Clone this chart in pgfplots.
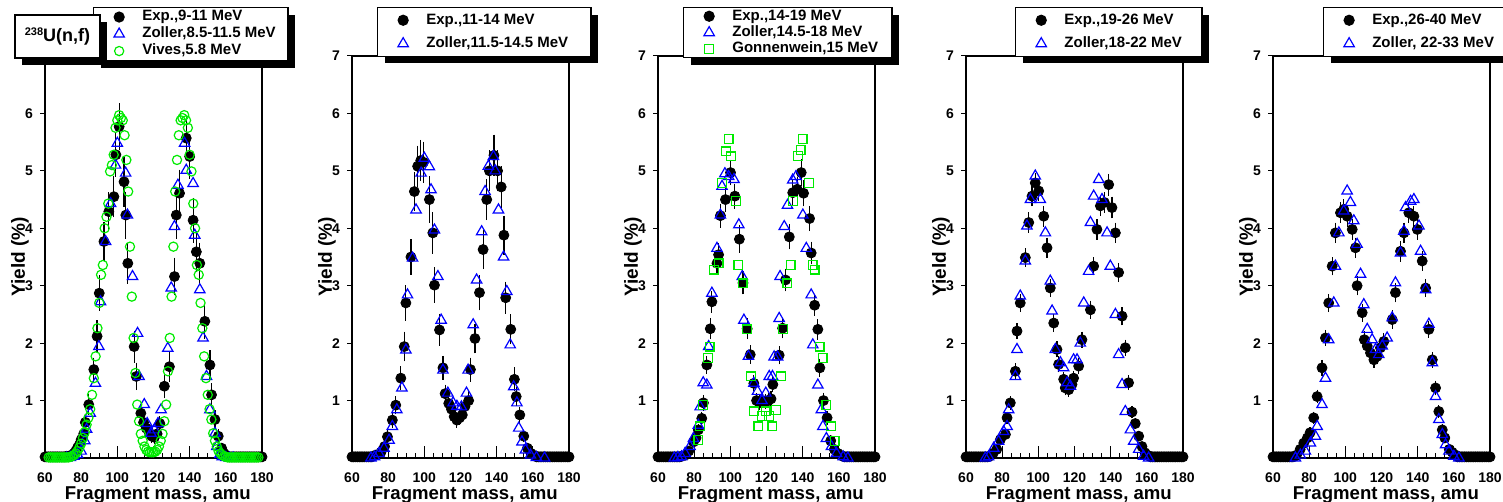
\documentclass[border=0pt]{standalone}
\usepackage{fontspec}
\setmainfont{Liberation Sans}
\usepackage{pgfplots}
\pgfplotsset{compat=1.18}
\usetikzlibrary{shadows}
\definecolor{rblue}{RGB}{0,0,255}
\definecolor{rgreen}{RGB}{0,235,0}
\pgfplotsset{
  panel/.style={
    scale only axis, width=108.5pt, height=201pt,
    xmin=60, xmax=180, ymin=0, ymax=7,
    xtick={60,80,...,180}, minor x tick num=3,
    ytick={1,...,7},
    xtick align=inside, ytick align=outside, tick pos=left,
    major tick length=2.5pt, minor tick length=2.5pt,
    xtick style={/pgfplots/major tick length=6pt, black, line width=0.5pt},
    ytick style={black, line width=0.5pt},
    axis line style={line width=0.8pt},
    tick label style={font=\fontsize{7}{8}\selectfont\bfseries},
    xticklabel style={yshift=-3.8pt},
    /pgf/number format/assume math mode=true,
    xlabel={Fragment mass, amu}, ylabel={Yield (\%)},
    every axis x label/.style={at={(axis description cs:0.52,-0.092)},anchor=center,font=\fontsize{9.3}{10}\selectfont\bfseries},
    every axis y label/.style={at={(axis description cs:-0.115,0.5)},rotate=90,anchor=center,font=\fontsize{9.5}{10}\selectfont\bfseries},
    clip=false,
    legend cell align=left,
  },
  leg/.style n args={4}{legend style={at={(axis description cs:#1,1.122)}, anchor=north west,
    draw=black, line width=0.6pt, fill=white,
    drop shadow={shadow xshift=3.5pt, shadow yshift=-3.5pt, fill=black, opacity=1},
    font=\fontsize{7.5}{8}\selectfont\bfseries,
    inner xsep=4.5pt, inner ysep=#2, row sep=#3, column sep=#4,
    nodes={inner sep=0.3pt, text height=5.2pt, text depth=1.3pt}}},
  mk/.style={only marks, legend image code/.code={\path (-8pt,0pt) (8pt,0pt); \draw[##1] plot coordinates {(0pt,0pt)};}},
  exp/.style={mk, mark=*, mark size=2.5pt, black, mark options={fill=black, draw=black},
    error bars/.cd, y dir=both, y explicit, error mark=-,
    error bar style={black, line width=0.6pt},
    error mark options={black, mark size=1.7pt, line width=0.6pt}},
  zol/.style={mk, mark=triangle, mark size=3pt, rblue, mark options={line width=0.6pt, draw=rblue}},
  viv/.style={mk, mark=o, mark size=2.3pt, rgreen, mark options={line width=0.6pt, draw=rgreen}},
  gon/.style={mk, mark=square, mark size=2.2pt, rgreen, mark options={line width=0.6pt, draw=rgreen}},
}
\begin{document}
\begin{tikzpicture}[x=1pt,y=1pt]
\useasboundingbox (0,0) rectangle (751.5,251);
% ---------------- Panel 1
\begin{axis}[panel, at={(22.5pt,22pt)}, anchor=south west, leg={0.221}{1.2pt}{1.4pt}{3pt}]
\addplot[exp] table[x=x,y=y,y error=e] {
x y e
60 0.02 0
61 0.02 0
62 0.02 0
63 0.02 0
64 0.02 0
65 0.02 0
66 0.02 0
67 0.02 0
68 0.02 0
69 0.02 0
70 0.02 0
71 0.02 0
72 0.03 0
73 0.03 0
74 0.04 0
75 0.05 0.01
76 0.08 0.02
77 0.12 0.02
78 0.18 0.03
79 0.23 0.04
80 0.32 0.05
81.4 0.42 0.05
82.3 0.62 0.07
84.2 0.93 0.12
87 1.54 0.15
88.8 2.12 0.22
90 2.87 0.25
92.6 3.77 0.28
95.3 4.29 0.28
98.1 4.55 0.3
99.2 5.28 0.32
101 5.77 0.35
103.7 4.81 0.38
104.7 4.23 0.35
105.8 3.39 0.3
109.3 1.94 0.22
110.5 1.42 0.18
113 0.78 0.1
114.5 0.62 0.08
116 0.52 0.07
117.5 0.45 0.06
119 0.38 0.06
120.5 0.36 0.06
122 0.42 0.06
123.5 0.6 0.07
126 1.25 0.15
128.8 1.59 0.2
131.6 3.16 0.27
132.6 4.23 0.35
134.4 4.61 0.35
138.1 5.57 0.32
140 5.25 0.33
141.9 4.14 0.33
143.7 3.59 0.3
145.6 3.39 0.3
148.4 2.38 0.25
151.2 1.62 0.2
152.1 1.1 0.14
154 0.67 0.1
155.8 0.38 0.06
157.7 0.17 0.04
159 0.08 0.02
160 0.05 0.01
161 0.03 0
162 0.02 0
163 0.02 0
164 0.02 0
165 0.02 0
166 0.02 0
167 0.02 0
168 0.02 0
169 0.02 0
170 0.02 0
171 0.02 0
172 0.02 0
173 0.02 0
174 0.02 0
175 0.02 0
176 0.02 0
177 0.02 0
178 0.02 0
179 0.02 0
180 0.02 0
};
\addlegendentry{\makebox[68pt][l]{Exp.,9-11 MeV}}
\addplot[zol] coordinates {
(72,0.0) (74,0.01) (76,0.03) (78,0.06) (80,0.12) (82,0.3) (83,0.5) (85,0.78) (87.9,1.3)
(89.8,1.94) (90.7,2.72) (93.5,3.77) (96.3,4.43) (99,5.1) (100,5.48) (104.6,4.96) (105.6,4.23)
(108.4,3.16) (111.2,2.17) (112,1.42) (114.9,0.93) (116.5,0.6) (118.6,0.43) (120.5,0.49)
(122.5,0.6) (124.2,0.84) (127.9,1.91) (129.8,2.96) (131.6,4.03) (133.5,4.75) (137.2,5.48)
(138.1,5.01) (141.9,4.78) (142.8,3.88) (145.6,2.93) (147.4,2.09) (149.3,1.42) (151.2,0.84)
(154,0.43) (155,0.2) (156.7,0.06) (158,0.02) (160,0.01) (162,0) (164,0)
};
\addlegendentry{\makebox[68pt][l]{Zoller,8.5-11.5 MeV}}
\addplot[viv] coordinates {
(62,0.01) (63,0.01) (64,0.01) (65,0.01) (66,0.01) (67,0.01) (68,0.01) (69,0.01) (70,0.01)
(71,0.01) (72,0.01) (73,0.01) (74,0.02) (75,0.03) (76,0.05) (77,0.08) (78,0.12) (79,0.18)
(80,0.25) (81,0.35) (82,0.45) (83,0.58) (84,0.7) (85,0.85) (86,1.1) (87,1.39) (88,1.77)
(89,2.26) (90,2.7) (91,3.19) (92,3.36) (93,4.0) (94,4.2) (95,4.43) (96,4.99) (97,5.1)
(98,5.28) (99,5.75) (100,5.88) (101,5.97) (102,5.92) (103,5.88) (104,5.62) (105,5.19)
(106,4.64) (107,3.68) (108,2.81) (109,2.09) (110,1.48) (111,0.93) (112,0.64) (113,0.42)
(114,0.3) (115,0.2) (116,0.14) (117,0.11) (118,0.1) (119,0.1) (120,0.1) (121,0.11)
(122,0.14) (123,0.2) (124,0.3) (125,0.42) (126,0.64) (127,0.93) (128,1.51) (129,2.09)
(130,2.81) (131,3.68) (132,4.64) (133,5.19) (134,5.62) (135,5.88) (136,5.92) (137,5.97)
(138,5.88) (139,5.75) (140,5.28) (141,4.99) (142,4.43) (143,4.0) (144,3.36) (145,3.19)
(146,2.7) (147,2.26) (148,1.77) (149,1.39) (150,1.1) (151,0.85) (152,0.67) (153,0.43)
(154,0.3) (155,0.2) (156,0.12) (157,0.08) (158,0.05) (159,0.03) (160,0.02) (161,0.01)
(162,0.01) (163,0.01) (164,0.01) (165,0.01) (166,0.01) (167,0.01) (168,0.01) (169,0.01)
(170,0.01) (171,0.01) (172,0.01) (173,0.01) (174,0.01) (175,0.01) (176,0.01) (177,0.01) (178,0.01)
};
\addlegendentry{\makebox[68pt][l]{Vives,5.8 MeV}}
\end{axis}
% ---------------- Panel 2
\begin{axis}[panel, at={(176pt,22pt)}, anchor=south west, leg={0.115}{2.8pt}{4.6pt}{3pt}]
\addplot[exp] table[x=x,y=y,y error=e] {
x y e
60 0.02 0
61 0.02 0
62 0.02 0
63 0.02 0
64 0.02 0
65 0.02 0
66 0.02 0
67 0.02 0
68 0.02 0
69 0.02 0
70 0.02 0
71 0.02 0
73 0.05 0.01
76 0.1 0.02
78 0.2 0.03
79.6 0.37 0.05
82.3 0.66 0.07
84.2 0.92 0.1
87 1.39 0.15
88.9 1.94 0.2
89.8 2.7 0.25
92.6 3.5 0.25
94.5 4.64 0.28
96.3 5.08 0.3
98 5.18 0.3
99.5 5.15 0.3
102.8 4.5 0.35
104.7 3.92 0.3
105.6 3.01 0.25
108.4 2.23 0.22
110.3 1.57 0.15
111.5 1.12 0.1
113.5 0.95 0.08
115 0.85 0.08
116.5 0.72 0.07
118 0.66 0.07
119.5 0.7 0.07
121 0.75 0.07
122.5 0.9 0.08
124.5 1.0 0.1
125.5 1.54 0.15
128 2.08 0.2
130.5 2.88 0.25
132.5 3.63 0.28
134.5 4.5 0.3
136 5.0 0.3
138.5 5.27 0.3
140.5 5.0 0.3
142.5 4.72 0.3
144 3.88 0.28
145 2.79 0.22
147.8 2.24 0.2
149.8 1.37 0.15
150.8 1.07 0.1
152.8 0.75 0.08
155 0.38 0.05
157 0.17 0.03
159 0.08 0.02
161 0.04 0.01
162 0.02 0
163 0.02 0
164 0.02 0
165 0.02 0
166 0.02 0
167 0.02 0
168 0.02 0
169 0.02 0
170 0.02 0
171 0.02 0
172 0.02 0
173 0.02 0
174 0.02 0
175 0.02 0
176 0.02 0
177 0.02 0
178 0.02 0
179 0.02 0
180 0.02 0
};
\addlegendentry{\makebox[77.5pt][l]{Exp.,11-14 MeV}}
\addplot[zol] coordinates {
(70.5,0) (72.5,0.02) (74.9,0.08) (77.7,0.17) (80.5,0.31) (82.3,0.55) (84.8,0.84) (87.6,1.22)
(89.8,1.88) (90.7,2.84) (93.5,3.48) (95.4,4.32) (98.2,4.96) (100,5.22) (102.8,5.07)
(103.7,4.67) (105.6,3.97) (107.5,3.16) (109.3,2.4) (110.3,1.53) (113,1.13) (115.9,0.96)
(118,0.9) (120.5,0.89) (123.3,1.13) (124.2,1.53) (127,2.32) (128.9,3.1) (131.7,3.94)
(133.6,4.64) (135.4,5.08) (138.2,5.25) (139.2,5.0) (141,4.32) (143.8,3.5) (145.6,2.9)
(147.5,1.97) (149.4,1.24) (151.2,0.96) (152.2,0.52) (154,0.28) (155.9,0.14) (158.7,0.05)
(162,0.01) (166.5,0)
};
\addlegendentry{\makebox[77.5pt][l]{Zoller,11.5-14.5 MeV}}
\end{axis}
% ---------------- Panel 3
\begin{axis}[panel, at={(329pt,22pt)}, anchor=south west, leg={0.115}{0.8pt}{1.1pt}{3pt}]
\addplot[exp] table[x=x,y=y,y error=e] {
x y e
60 0.02 0
61 0.02 0
62 0.02 0
63 0.02 0
64 0.02 0
65 0.02 0
66 0.02 0
67 0.02 0
68 0.02 0
69 0.02 0
70 0.02 0
71 0.02 0
72 0.02 0
73 0.03 0
75 0.05 0.01
77 0.12 0.02
79.6 0.28 0.03
81 0.35 0.04
82.3 0.49 0.05
84.2 0.69 0.06
85.1 0.96 0.08
87 1.62 0.1
88.9 2.25 0.12
89.8 2.72 0.13
92.6 3.39 0.14
93.5 3.54 0.14
94.5 4.22 0.15
97.3 4.5 0.16
100.1 4.97 0.16
102.5 4.56 0.16
105 3.81 0.18
107 3.05 0.14
109.3 2.25 0.12
111 1.8 0.1
113 1.3 0.08
114.5 1.0 0.07
116 0.96 0.07
117.7 1.0 0.07
119.5 0.98 0.07
121 1.0 0.07
122.5 1.03 0.07
123.5 1.28 0.08
127 1.79 0.1
128.9 2.26 0.12
130.5 3.1 0.14
132.6 3.85 0.16
134.5 4.62 0.16
137 4.68 0.16
139.2 4.97 0.17
140.5 4.61 0.17
143.8 4.17 0.16
144.7 3.57 0.14
146.6 2.66 0.12
148.4 2.24 0.12
149.5 1.57 0.1
151.5 1.0 0.08
153.5 0.7 0.06
155.5 0.3 0.04
157.5 0.15 0.03
159.5 0.08 0.02
161.5 0.04 0.01
163 0.02 0
164 0.02 0
165 0.02 0
166 0.02 0
167 0.02 0
168 0.02 0
169 0.02 0
170 0.02 0
171 0.02 0
172 0.02 0
173 0.02 0
174 0.02 0
175 0.02 0
176 0.02 0
177 0.02 0
178 0.02 0
179 0.02 0
180 0.02 0
};
\addlegendentry{\makebox[75pt][l]{Exp.,14-19 MeV}}
\addplot[zol] coordinates {
(69,0) (71,0.01) (73,0.02) (75,0.08) (77.7,0.2) (79.6,0.34) (82.3,0.57) (83.3,0.89) (85,1.31)
(87,1.27) (88,1.94) (89.8,2.87) (92.6,3.65) (94.5,4.23) (95.4,4.73) (97,4.95) (99.1,4.9)
(102,4.85) (104.7,4.06) (106.6,3.16) (107.5,2.4) (110,1.77) (113,1.3) (115,1.16) (117.5,1.0)
(119.6,1.13) (121.5,1.42) (123.3,1.42) (124.2,1.76) (126.1,1.76) (127,2.43) (127.5,3.16)
(129.8,4.03) (131.6,4.4) (134.5,4.84) (136.3,4.9) (140.1,4.23) (142,3.65) (144.7,2.84)
(145.6,1.97) (148.4,1.27) (150.3,0.84) (151.2,0.55) (153.1,0.34) (155.9,0.2) (158.7,0.08)
(162.4,0.02) (165,0)
};
\addlegendentry{\makebox[75pt][l]{Zoller,14.5-18 MeV}}
\addplot[gon] coordinates {
(82.3,0.31) (83.3,0.55) (85,0.92) (87.5,1.74) (88.5,1.94) (90.8,3.28) (93.5,3.39) (95.4,4.79)
(97.5,5.34) (99,5.55) (100.5,5.25) (103,4.47) (104.5,3.36) (106.8,3.04) (109.3,2.24)
(111.5,1.42) (113,0.81) (115.5,0.55) (117.5,0.73) (119.5,0.81) (121.5,0.73) (123.3,0.55)
(125.2,0.84) (128,1.42) (129,2.25) (131.5,3.04) (133.3,3.36) (134.8,4.47) (137.3,5.26)
(138.8,5.36) (140,5.55) (143.5,4.79) (145.5,3.36) (146.6,3.28) (149.4,1.94) (151,1.74)
(153.1,0.92) (155.8,0.55) (157.6,0.3)
};
\addlegendentry{\makebox[75pt][l]{Gonnenwein,15 MeV}}
\end{axis}
% ---------------- Panel 4
\begin{axis}[panel, at={(483pt,22pt)}, anchor=south west, leg={0.226}{2.8pt}{4.6pt}{3pt}]
\addplot[exp] table[x=x,y=y,y error=e] {
x y e
60 0.02 0
61 0.02 0
62 0.02 0
63 0.02 0
64 0.02 0
65 0.02 0
66 0.02 0
67 0.02 0
68 0.02 0
69 0.02 0
70 0.02 0
71 0.02 0
72 0.02 0
73 0.03 0
75 0.08 0.01
77 0.15 0.02
79 0.32 0.03
81.8 0.41 0.04
82.7 0.7 0.05
84.5 0.96 0.06
87.3 1.51 0.08
88.2 2.21 0.08
90 2.7 0.1
92.8 3.49 0.1
94.7 4.1 0.12
96.5 4.56 0.12
98.3 4.79 0.12
100.2 4.65 0.12
103 4.21 0.12
104.8 3.66 0.12
106.6 2.96 0.1
108.5 2.35 0.1
110.3 1.89 0.08
111.2 1.63 0.08
114 1.37 0.07
114.9 1.22 0.07
116.8 1.19 0.07
118.6 1.28 0.07
119.5 1.39 0.07
122.3 1.6 0.08
124.1 2.06 0.08
128.8 2.58 0.1
130.6 3.34 0.1
132.4 3.98 0.12
134.3 4.39 0.12
136.5 4.45 0.12
138.9 4.76 0.13
140.7 4.36 0.13
142.6 3.92 0.12
144.4 3.23 0.11
146.3 2.47 0.1
148.1 1.92 0.08
149.9 1.31 0.07
151.8 0.8 0.05
153.6 0.6 0.04
155.5 0.38 0.03
157.3 0.2 0.02
159 0.09 0.01
161 0.04 0
162 0.02 0
163 0.02 0
164 0.02 0
165 0.02 0
166 0.02 0
167 0.02 0
168 0.02 0
169 0.02 0
170 0.02 0
171 0.02 0
172 0.02 0
173 0.02 0
174 0.02 0
175 0.02 0
176 0.02 0
177 0.02 0
178 0.02 0
179 0.02 0
180 0.02 0
};
\addlegendentry{\makebox[64pt][l]{Exp.,19-26 MeV}}
\addplot[zol] coordinates {
(70.7,0) (72.5,0.02) (75.3,0.17) (78,0.29) (80.8,0.46) (82.7,0.55) (83.6,0.84) (87.3,1.42)
(88.2,1.89) (90,2.82) (92.8,3.43) (93.7,4.04) (95.6,4.5) (98.3,4.91) (101.1,4.5) (103.9,3.92)
(106.6,3.08) (107.6,2.56) (109.4,1.89) (112.2,1.66) (114,1.57) (115.9,1.31) (117.7,1.25)
(119.5,1.71) (121.4,1.71) (123.2,2.0) (125.1,2.7) (127.8,3.25) (128.8,4.1) (130.6,4.56)
(133.4,4.85) (135.2,4.5) (138,3.92) (139.8,3.34) (142.6,2.5) (144.4,1.8) (146.3,1.28)
(148.1,0.81) (150.9,0.49) (152.7,0.29) (155.5,0.15) (158.2,0.03) (161,0)
};
\addlegendentry{\makebox[64pt][l]{Zoller,18-22 MeV}}
\end{axis}
% ---------------- Panel 5
\begin{axis}[panel, at={(636.5pt,22pt)}, anchor=south west, leg={0.23}{2.8pt}{4.6pt}{3pt}]
\addplot[exp] table[x=x,y=y,y error=e] {
x y e
60 0.02 0
61 0.02 0
62 0.02 0
63 0.02 0
64 0.02 0
65 0.02 0
66 0.02 0
67 0.02 0
68 0.02 0
69 0.02 0
70 0.02 0
71 0.02 0
72 0.03 0
73 0.05 0.01
75 0.15 0.02
77 0.26 0.03
79 0.35 0.03
80.5 0.44 0.04
82.5 0.7 0.05
84.4 1.07 0.06
87.1 1.57 0.08
89 2.09 0.08
90.8 2.7 0.1
92.7 3.34 0.1
94.5 3.92 0.12
97.3 4.27 0.12
99.1 4.33 0.12
101 4.21 0.12
103.8 3.98 0.12
105.6 3.66 0.12
106.5 3.0 0.11
109.3 2.53 0.1
110.5 2.06 0.09
112.1 1.95 0.09
113.9 1.83 0.08
115.8 1.71 0.08
117.6 1.77 0.08
119.4 1.92 0.08
121.3 2.03 0.09
125.9 2.41 0.1
127.7 2.88 0.11
130.5 3.6 0.12
132.4 3.92 0.12
135.1 4.27 0.12
137.9 4.21 0.12
139.8 3.98 0.12
142.5 3.43 0.11
144.4 2.96 0.1
146.2 2.24 0.09
148.1 1.71 0.08
149.9 1.22 0.07
151.7 0.81 0.05
153.6 0.49 0.04
155 0.35 0.03
157.5 0.15 0.02
159.1 0.1 0.01
161 0.05 0
162 0.02 0
163 0.02 0
164 0.02 0
165 0.02 0
166 0.02 0
167 0.02 0
168 0.02 0
169 0.02 0
170 0.02 0
171 0.02 0
172 0.02 0
173 0.02 0
174 0.02 0
175 0.02 0
176 0.02 0
177 0.02 0
178 0.02 0
179 0.02 0
180 0.02 0
};
\addlegendentry{\makebox[72pt][l]{Exp.,26-40 MeV}}
\addplot[zol] coordinates {
(72.4,0) (75.1,0.05) (77.9,0.12) (80.7,0.26) (83.4,0.38) (84.4,0.55) (87.1,0.93) (89,1.39)
(90.8,2.06) (93.6,2.7) (94.5,3.34) (96.4,3.92) (99.1,4.3) (101,4.65) (102.8,4.45) (104.7,4.13)
(106.5,3.72) (108.4,3.2) (110.2,2.67) (112.1,2.24) (114.8,2.06) (116.7,1.89) (118.5,1.8)
(120.4,1.95) (123.1,2.09) (125.9,2.44) (127.7,3.05) (130.5,3.57) (132.4,3.95) (133.3,4.36)
(136.1,4.47) (137.9,4.5) (140.7,4.04) (141.6,3.6) (144.4,2.93) (146.2,2.33) (148.1,1.66)
(149.9,1.07) (151.7,0.67) (153.6,0.41) (155.4,0.23) (157.3,0.12) (160,0.03) (162.8,0)
};
\addlegendentry{\makebox[72pt][l]{Zoller, 22-33 MeV}}
\end{axis}
% ---------------- reaction label
\node[draw=black, line width=0.6pt, fill=white,
  drop shadow={shadow xshift=3.5pt, shadow yshift=-3.5pt, fill=black, opacity=1},
  minimum width=42.5pt, minimum height=21.5pt, inner sep=0pt]
  at (28.75,232.75) {\bfseries{\fontsize{5.5}{6}\selectfont\raisebox{3.2pt}{238}}\fontsize{9}{10}\selectfont U(n,f)};
\end{tikzpicture}
\end{document}
